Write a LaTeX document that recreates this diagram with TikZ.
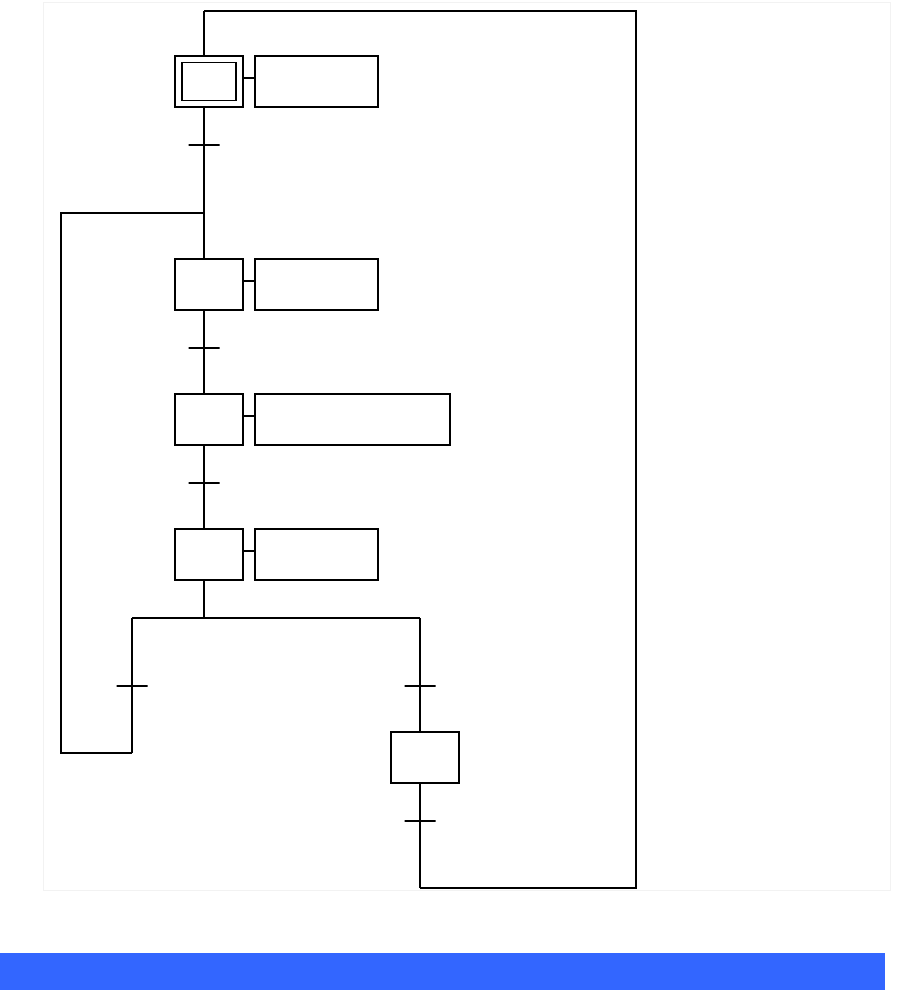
\documentclass[tikz,border=0pt]{standalone}
\usetikzlibrary{positioning,calc}
\definecolor{bande}{RGB}{51,102,255}
\definecolor{grille}{RGB}{242,242,242}

\begin{document}
\begin{tikzpicture}[x=1pt,y=-1pt,line join=miter]
\tikzset{etape/.style={draw,line width=2.2pt,minimum width=68pt,minimum height=51pt,inner sep=0pt},
  action/.style={draw,line width=2.2pt,minimum width=123pt,minimum height=51pt,inner sep=0pt},
  trans/.style={draw,line width=1.6pt,minimum width=31pt,minimum height=0pt,inner sep=0pt},
  lien/.style={line width=2.2pt},boucle/.style={line width=1.6pt}}
\useasboundingbox (0,0) rectangle (902,990);
\draw[grille] (43,2) rectangle (890,890);
\fill[bande] (0,953) rectangle (885,990);
% etapes
\node[etape] (e0) at (209,81.5) {};
\node[draw,line width=1.5pt,minimum width=54pt,minimum height=38pt,inner sep=0pt] (e0i) at (e0) {};
\node[etape] (e1) at (209,284.5) {};
\node[etape] (e2) at (209,419.5) {};
\node[etape] (e3) at (209,554.5) {};
\node[etape] (e4) at (425,757.5) {};
% actions
\node[action,right=10pt of e0] (a0) {};
\node[action,right=10pt of e1] (a1) {};
\node[action,right=10pt of e2,minimum width=195pt] (a2) {};
\node[action,right=10pt of e3] (a3) {};
% transitions
\node[trans] (t1) at (204,145) {};
\node[trans] (t2) at (204,348) {};
\node[trans] (t3) at (204,483) {};
\node[trans] (t4) at (132,686) {};
\node[trans] (t5) at (420,686) {};
\node[trans] (t6) at (420,821) {};
% points de renvoi
\coordinate (haut) at (204,11);
\coordinate (coin) at (636,11);
\coordinate (bas) at (636,888);
\coordinate (retour) at (420,888);
\coordinate (j) at (204,213);
\coordinate (g) at (61,213);
\coordinate (gb) at (61,753);
\coordinate (gc) at (132,753);
\coordinate (d1) at (132,618);
\coordinate (d2) at (420,618);
\coordinate (dv) at (204,618);
% liaisons
\draw[lien] (haut) -- (e0.north -| t1);
\draw[lien] (e0.south -| t1) -- (t1) -- (e1.north -| t1);
\draw[lien] (e1.south -| t2) -- (t2) -- (e2.north -| t2);
\draw[lien] (e2.south -| t3) -- (t3) -- (e3.north -| t3);
\draw[lien] (e3.south -| t3) -- (dv);
\draw[boucle] (d1) -- (d2);
\draw[lien] (d1) -- (t4) -- (gc);
\draw[boucle] (gc) -- (gb) -- (g) -- (j);
\draw[lien] (d2) -- (t5) -- (e4.north -| t5);
\draw[lien] (e4.south -| t6) -- (t6) -- (retour);
\draw[boucle] (retour) -- (bas) -- (coin) -- (haut);
\foreach \i in {0,...,3}
  \draw[lien] ($(e\i.east)+(0,-3.5)$) -- ($(a\i.west)+(0,-3.5)$);
\end{tikzpicture}
\end{document}
